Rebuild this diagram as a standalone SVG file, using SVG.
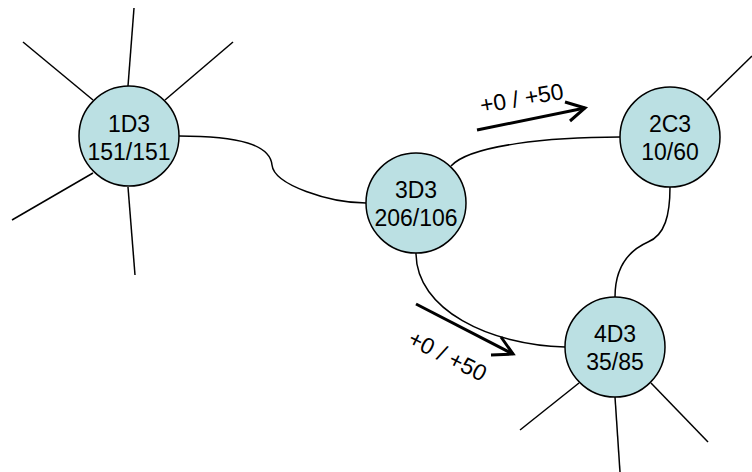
<svg xmlns="http://www.w3.org/2000/svg" width="752" height="472" viewBox="0 0 752 472">
<style>
.node{fill:#bbe0e3;stroke:#000;stroke-width:1.5}
.lbl{font-family:"Liberation Sans",Arial,sans-serif;font-size:23px;fill:#000;text-anchor:middle}
.ln{fill:none;stroke:#000;stroke-width:1.5}
.arr{fill:none;stroke:#000;stroke-width:3;stroke-linecap:butt;stroke-linejoin:miter}
</style>
<rect width="752" height="472" fill="#fff"/>
<g id="connectors">
<line class="ln" x1="128" y1="86" x2="134" y2="8"/>
<line class="ln" x1="93" y1="100" x2="23" y2="42"/>
<line class="ln" x1="165" y1="100" x2="233" y2="42"/>
<line class="ln" x1="93" y1="173" x2="12" y2="220"/>
<line class="ln" x1="128" y1="187" x2="135" y2="275"/>
<path class="ln" d="M179,136 C240,136 270,145 272,165 C274,185 330,203 366,203"/>
<path class="ln" d="M451,166 C470,145 550,137 620,137"/>
<path class="ln" d="M670,187 C670,215 665,235 648,242 C630,250 615,265 615,297"/>
<path class="ln" d="M416,253 C416,310 490,345 565,347"/>
<line class="ln" x1="707" y1="100" x2="752" y2="56"/>
<line class="ln" x1="579" y1="383" x2="520" y2="430"/>
<line class="ln" x1="615" y1="397" x2="620" y2="472"/>
<line class="ln" x1="651" y1="383" x2="708" y2="442"/>
</g>
<g id="arrow1">
<line class="arr" x1="477" y1="130" x2="585" y2="108"/>
<polyline class="arr" points="565,102 585,108 570,121"/>
<text class="lbl" transform="translate(523,106) rotate(-10)">+0 / +50</text>
</g>
<g id="arrow2">
<line class="arr" x1="416" y1="304" x2="513" y2="354"/>
<polyline class="arr" points="501,337 513,354 491,355"/>
<text class="lbl" transform="translate(444,363) rotate(27)">+0 / +50</text>
</g>
<g id="n1D3">
<circle class="node" cx="129" cy="136" r="50"/>
<text class="lbl" x="129" y="132">1D3</text>
<text class="lbl" x="129" y="160">151/151</text>
</g>
<g id="n3D3">
<circle class="node" cx="416" cy="203" r="50"/>
<text class="lbl" x="416" y="198">3D3</text>
<text class="lbl" x="416" y="226">206/106</text>
</g>
<g id="n2C3">
<circle class="node" cx="670" cy="137" r="50"/>
<text class="lbl" x="670" y="132">2C3</text>
<text class="lbl" x="670" y="160">10/60</text>
</g>
<g id="n4D3">
<circle class="node" cx="615" cy="347" r="50"/>
<text class="lbl" x="615" y="342">4D3</text>
<text class="lbl" x="615" y="370">35/85</text>
</g>
</svg>
